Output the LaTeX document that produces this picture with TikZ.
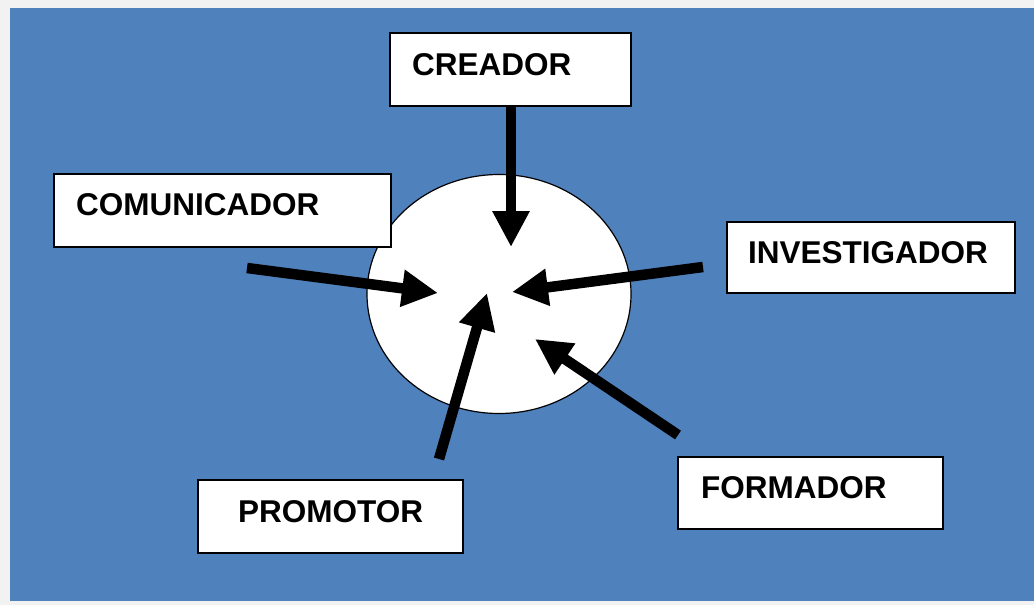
\documentclass[tikz,border=0pt]{standalone}
\usepackage{fontspec}
\setmainfont{Liberation Sans}
\usetikzlibrary{arrows.meta,shapes.geometric}
\definecolor{bgblue}{HTML}{4F81BD}
\definecolor{bggray}{HTML}{F2F2F2}
\tikzset{
  box/.style={draw=black, fill=white, line width=1.6pt, rectangle, inner sep=0pt},
  lbl/.style={anchor=base west, inner sep=0pt, font=\bfseries\fontsize{31.5}{36}\selectfont},
  bigarrow/.style={draw=black, line width=10.5pt, -{Triangle[length=36pt,width=35pt]}},
}
\begin{document}
\begin{tikzpicture}[x=1pt,y=-1pt]
\useasboundingbox (0,0) rectangle (1034,605);
\fill[bggray] (0,0) rectangle (1034,605);
\fill[bgblue] (10,8) rectangle (1034,601);
% central circle
\node[draw=black, fill=white, line width=1.2pt, ellipse, inner sep=0pt,
      minimum width=264pt, minimum height=239pt] (core) at (499,294) {};
% boxes
\node[box, minimum width=241pt, minimum height=73pt] (creador) at (510.5,69.5) {};
\node[box, minimum width=337pt, minimum height=73pt] (comunicador) at (222.5,210.5) {};
\node[box, minimum width=288pt, minimum height=71pt] (investigador) at (871,257.5) {};
\node[box, minimum width=265pt, minimum height=72pt] (formador) at (810.5,493) {};
\node[box, minimum width=265pt, minimum height=73pt] (promotor) at (330.5,516.5) {};
% labels
\node[lbl] (creadorT) at (412,75) {CREADOR};
\node[lbl] (comunicadorT) at (76,215) {COMUNICADOR};
\node[lbl] (investigadorT) at (748,263) {INVESTIGADOR};
\node[lbl] (formadorT) at (701,498) {FORMADOR};
\node[lbl] (promotorT) at (238,522) {PROMOTOR};
% arrow ends
\coordinate (tCre) at (511,247);
\coordinate (sCom) at (247,268);
\coordinate (tCom) at (438,293);
\coordinate (sInv) at (703,267);
\coordinate (tInv) at (512,292);
\coordinate (sFor) at (678,435);
\coordinate (tFor) at (535,339);
\coordinate (sPro) at (439,459);
\coordinate (tPro) at (487,293);
\draw[bigarrow] (creador.south -| tCre) -- (tCre);
\draw[bigarrow] (sCom) -- (tCom);
\draw[bigarrow] (sInv) -- (tInv);
\draw[bigarrow] (sFor) -- (tFor);
\draw[bigarrow] (sPro) -- (tPro);
\end{tikzpicture}
\end{document}
